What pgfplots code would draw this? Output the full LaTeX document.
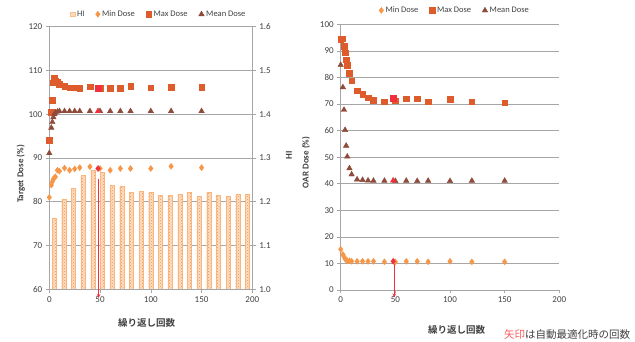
\documentclass[border=0pt]{standalone}
\usepackage{pgfplots}
\pgfplotsset{compat=1.18}
\usepackage{pgfplotstable}
\usetikzlibrary{patterns,arrows.meta}
\usepackage{fontspec}
\setmainfont{Carlito}
\newfontfamily\jp{Noto Sans CJK JP}[BoldFont={Noto Sans CJK JP Bold}]

\definecolor{minc}{HTML}{F79646}
\definecolor{maxc}{HTML}{DE5C2C}
\definecolor{meanc}{HTML}{8E4B3A}
\definecolor{hlc}{HTML}{F0303C}
\definecolor{gridc}{HTML}{A6A6A6}
\definecolor{txt}{HTML}{404040}
\definecolor{notec}{HTML}{FF5A5A}

% HI bars (category centres)
\pgfplotstableread{
x HI
4.762 1.163
14.286 1.205
23.810 1.230
33.333 1.261
42.857 1.272
52.381 1.268
61.905 1.238
71.429 1.235
80.952 1.221
90.476 1.224
100.000 1.221
109.524 1.215
119.048 1.215
128.571 1.217
138.095 1.221
147.619 1.213
157.143 1.221
166.667 1.215
176.190 1.213
185.714 1.217
195.238 1.217
}\hitab

% Target doses
\pgfplotstableread{
x minD maxD meanD
0 81.0 94.0 91.1
2 83.8 100.5 96.9
3 84.6 103.2 98.2
4 85.2 107.2 99.3
5 85.5 108.3 100.0
6 85.7 107.6 100.4
8 87.2 107.3 100.6
10 87.0 106.8 100.7
15 87.7 106.4 100.7
20 87.2 106.1 100.7
25 87.5 106.1 100.7
30 87.8 106.0 100.7
40 88.0 106.3 100.7
50 87.6 106.0 100.7
60 87.2 105.9 100.7
70 87.6 105.9 100.7
80 87.6 106.4 100.7
100 87.6 106.1 100.7
120 88.1 106.2 100.7
150 87.8 106.2 100.7
}\targettab

% OAR doses
\pgfplotstableread{
x minD maxD meanD
0 15.3 94.4 84.7
2 13.4 94.6 76.3
3 12.5 91.8 67.8
4 11.7 89.3 60.2
5 11.3 86.6 54.3
6 11.0 84.7 50.2
8 11.0 81.6 45.8
10 10.8 78.7 43.5
15 10.8 75.0 41.6
20 10.8 73.8 41.4
25 10.8 72.4 41.2
30 10.8 71.5 41.1
40 10.6 70.9 41.1
50 10.6 71.3 41.0
60 10.8 72.0 41.1
70 10.8 72.0 41.0
80 10.6 70.9 41.1
100 10.8 71.8 41.0
120 10.6 70.9 41.1
150 10.6 70.5 41.1
}\oartab

\pgfplotsset{
  base/.style={
    scale only axis,
    xmin=0, xmax=200,
    xtick={0,50,...,200},
    tick label style={font=\fontsize{9}{10}\selectfont, text=txt},
    /pgf/number format/assume math mode=true,
    axis line style={gridc, line width=0.6pt},
    tick style={gridc, line width=0.6pt},
    major tick length=3.5pt,
    tick align=outside,
    label style={font=\bfseries\fontsize{9}{10}\selectfont, text=txt},
  },
  minS/.style={only marks, mark=diamond*, mark size=3pt, color=minc},
  maxS/.style={only marks, mark=square*, mark size=2.8pt, color=maxc},
  meanS/.style={only marks, mark=triangle*, mark size=3.2pt, color=meanc},
  hlS/.style={only marks, color=hlc},
  leg/.style={legend style={draw=none, fill=none, legend columns=-1,
      font=\fontsize{8.5}{9}\selectfont, text=txt,
      /tikz/every even column/.append style={column sep=9pt},
      inner sep=0pt}},
}

\begin{document}
\begin{tikzpicture}[x=1pt,y=1pt]
\path[use as bounding box] (0pt,0pt) rectangle (635pt,342pt);

% ---------- left chart: HI bars on secondary axis ----------
\begin{axis}[base,
  at={(49.3pt,52.7pt)}, anchor=south west,
  width=203pt, height=262.6pt,
  axis x line=none,
  axis y line*=right,
  ymin=1.0, ymax=1.6, ytick={1.0,1.1,...,1.6},
  yticklabel style={/pgf/number format/.cd, fixed, fixed zerofill, precision=1},
  ymajorgrids, grid style={gridc, line width=0.6pt},
  ylabel={HI},
  ylabel style={at={(axis description cs:1.18,0.51)}, anchor=center},
]
\addplot[ybar, bar width=4.3pt, draw=minc!70, line width=0.3pt, fill=minc!32,
  postaction={pattern=crosshatch dots, pattern color=minc}]
  table[x=x, y=HI] {\hitab};
\end{axis}

% ---------- left chart: target doses ----------
\begin{axis}[base, leg,
  at={(49.3pt,52.7pt)}, anchor=south west,
  width=203pt, height=262.6pt,
  axis x line*=bottom, axis y line*=left,
  ymin=60, ymax=120, ytick={60,70,...,120},
  clip=false,
  xlabel={\jp\bfseries\fontsize{9.5}{10}\selectfont 繰り返し回数},
  xlabel style={at={(axis description cs:0.48,-0.128)}, anchor=center},
  ylabel={Target Dose (\%)},
  ylabel style={at={(axis description cs:-0.141,0.439)}, anchor=center},
  legend style={at={(0.54,1.025)}, anchor=south},
]
\addlegendimage{only marks, mark=square*, mark size=2.4pt, mark options={draw=minc!60, fill=minc!35}}
\addlegendentry{HI}
\addplot[minS] table[x=x, y=minD] {\targettab};
\addlegendentry{Min Dose}
\addplot[maxS] table[x=x, y=maxD] {\targettab};
\addlegendentry{Max Dose}
\addplot[meanS] table[x=x, y=meanD] {\targettab};
\addlegendentry{Mean Dose}
\addplot[hlS, mark=diamond*, mark size=3pt, forget plot] coordinates {(48,87.6)};
\addplot[hlS, mark=square*, mark size=2.8pt, forget plot] coordinates {(48,106.0)};
\addplot[hlS, mark=triangle*, mark size=3.2pt, forget plot] coordinates {(48,100.7)};
\draw[hlc, line width=0.7pt, -{Stealth[length=4pt,width=3.5pt]}] (axis cs:48.6,85.3) -- (axis cs:48.6,58.0);
\end{axis}

% ---------- right chart: OAR doses ----------
\begin{axis}[base, leg,
  at={(340.7pt,52pt)}, anchor=south west,
  width=218.6pt, height=265.7pt,
  axis x line*=bottom, axis y line*=left,
  ymin=0, ymax=100, ytick={0,10,...,100},
  ymajorgrids, grid style={gridc, line width=0.6pt},
  clip=false,
  xlabel={\jp\bfseries\fontsize{9.5}{10}\selectfont 繰り返し回数},
  xlabel style={at={(axis description cs:0.53,-0.15)}, anchor=center},
  ylabel={OAR Dose (\%)},
  ylabel style={at={(axis description cs:-0.159,0.48)}, anchor=center},
  legend style={at={(0.523,1.03)}, anchor=south},
]
\addplot[minS] table[x=x, y=minD] {\oartab};
\addlegendentry{Min Dose}
\addplot[maxS] table[x=x, y=maxD] {\oartab};
\addlegendentry{Max Dose}
\addplot[meanS] table[x=x, y=meanD] {\oartab};
\addlegendentry{Mean Dose}
\addplot[hlS, mark=diamond*, mark size=3pt, forget plot] coordinates {(48,10.8)};
\addplot[hlS, mark=square*, mark size=2.8pt, forget plot] coordinates {(48,72.1)};
\addplot[hlS, mark=triangle*, mark size=3.2pt, forget plot] coordinates {(48,41.2)};
\draw[hlc, line width=0.7pt, -{Stealth[length=4pt,width=3.5pt]}] (axis cs:49,9.8) -- (axis cs:49,-2.8);
\end{axis}

\node[anchor=center, inner sep=0pt] at (567pt,7pt)
  {\jp\fontsize{10.5}{11}\selectfont\textcolor{notec}{矢印}\textcolor{txt}{は自動最適化時の回数}};
\end{tikzpicture}
\end{document}
